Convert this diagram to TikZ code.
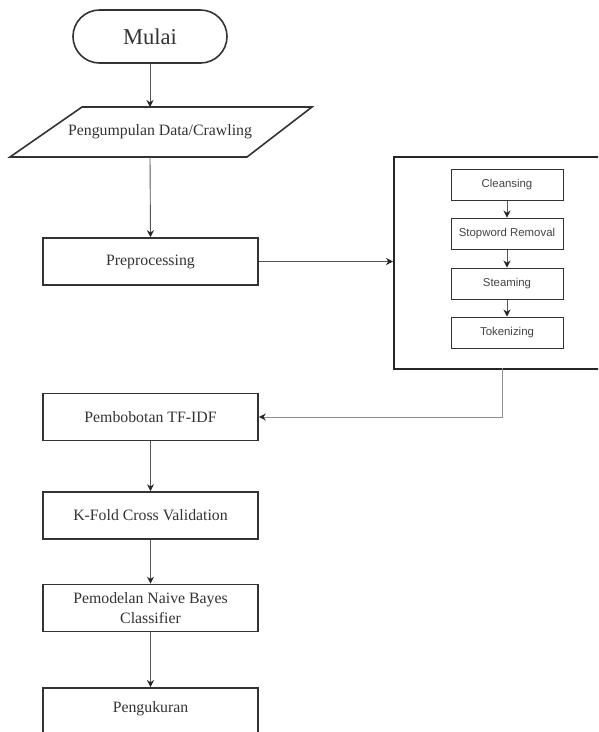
\documentclass[tikz,border=0pt]{standalone}
\usepackage{fontspec}
\setmainfont{Liberation Serif}
\newfontfamily\arialf{Liberation Sans}
\usetikzlibrary{arrows.meta,shapes.geometric,shapes.misc,positioning}
\definecolor{txt}{HTML}{333333}
\definecolor{subtxt}{HTML}{444444}
\definecolor{edge}{HTML}{333333}
\definecolor{conn}{HTML}{555555}
\tikzset{
  mainbox/.style={draw=edge, line width=1.6pt, rectangle, minimum width=215pt, minimum height=47pt, inner sep=0pt, text=txt, font=\fontsize{15.8pt}{20pt}\selectfont, align=center},
  subbox/.style={draw=edge, line width=1pt, rectangle, minimum width=112pt, minimum height=31pt, inner sep=0pt, text=subtxt, font=\arialf\fontsize{11.4pt}{13pt}\selectfont},
  conn/.style={draw=conn, line width=0.9pt, -{Stealth[length=7pt,width=7pt,color=black!85]}},
}
\begin{document}
\begin{tikzpicture}[x=1pt,y=-1pt]
\clip (0,0) rectangle (598,732);
\fill[white] (0,0) rectangle (598,732);
% terminal
\node (mulai) [draw=edge, line width=1.6pt, rounded rectangle, minimum width=154pt, minimum height=53pt, inner sep=0pt, text=txt, font=\fontsize{22.6pt}{26pt}\selectfont] at (150,36.5) {Mulai};
% parallelogram
\draw[edge, line width=1.6pt] (82,107) -- (312,107) -- (247,157) -- (10,157) -- cycle;
\node (crawl) [minimum width=160pt, minimum height=50pt, inner sep=0pt, text=txt, font=\fontsize{15.8pt}{20pt}\selectfont] at (160,132) {Pengumpulan Data/Crawling};
\coordinate (crawltop) at (150,107);
\coordinate (crawlbot) at (150,157);
% main boxes
\node (prep) [mainbox] at (150.5,261.5) {Preprocessing};
\node (tfidf) [mainbox] at (150.5,417) {Pembobotan TF-IDF};
\node (kfold) [mainbox] at (150.5,515.5) {K-Fold Cross Validation};
\node (nb) [mainbox] at (150.5,608) {Pemodelan Naive Bayes\\Classifier};
\node (ukur) [mainbox, minimum height=60pt, anchor=north] at (150.5,687) {};
\node (ukurtxt) [text=txt, font=\fontsize{15.8pt}{20pt}\selectfont] at (150.5,709) {Pengukuran};
% big box
\node (big) [draw=black!85, line width=2.4pt, rectangle, minimum width=220pt, minimum height=212pt, inner sep=0pt, anchor=north west] at (393,156) {};
% sub boxes
\node (cl) [subbox] at (507,184.5) {Cleansing};
\node (sw) [subbox] at (507,233.5) {Stopword Removal};
\node (st) [subbox] at (507,283.5) {Steaming};
\node (tk) [subbox] at (507,332.5) {Tokenizing};
% connectors
\draw[conn] (mulai.south) -- (crawltop);
\draw[conn] (crawlbot) -- (prep.north);
\draw[conn] (prep.east) -- (big.west |- prep.east);
\draw[conn] (cl) -- (sw);
\draw[conn] (sw) -- (st);
\draw[conn] (st) -- (tk);
\coordinate (bigout) at (502,368);
\draw[conn, draw=black!45] (bigout) -- (502,417) -- (tfidf.east);
\draw[conn] (tfidf) -- (kfold);
\draw[conn] (kfold) -- (nb);
\draw[conn] (nb) -- (ukur.north);
\end{tikzpicture}
\end{document}
